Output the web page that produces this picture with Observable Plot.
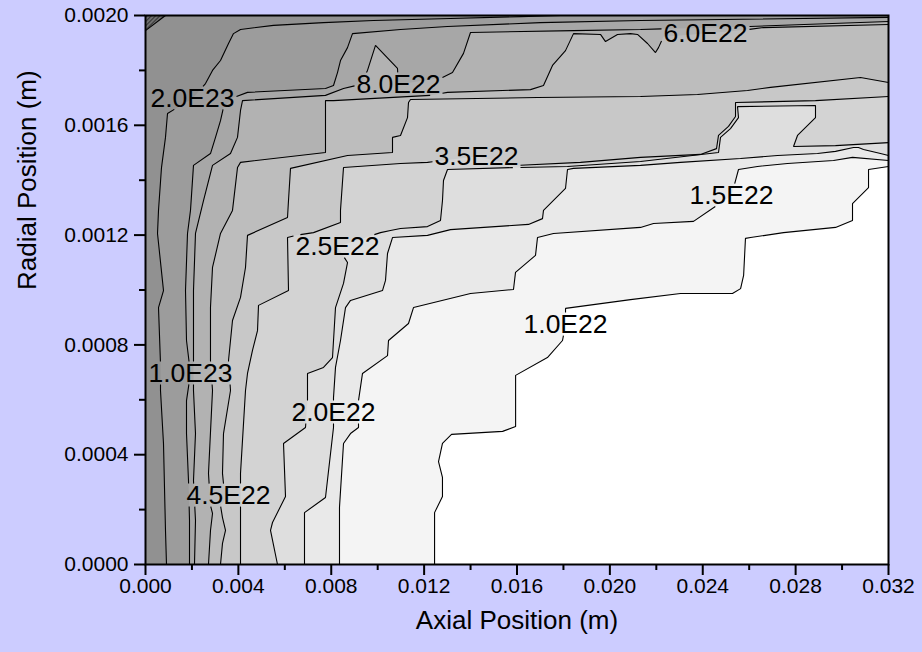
<!DOCTYPE html>
<html>
<head>
<meta charset="utf-8">
<script src="https://cdn.jsdelivr.net/npm/d3@7"></script>
<script src="https://cdn.jsdelivr.net/npm/@observablehq/plot@0.6"></script>
<style>
  html, body { margin: 0; padding: 0; background: #ccccff; }
  #chart { width: 922px; height: 652px; }
</style>
</head>
<body>
<div id="chart"></div>
<script>
// Contour lines of the density field, each as [axial position (m), radial position (m)]
// vertices, running from the axis (r = 0) up to the outer wall or the right boundary.
const c1_0E22 = [[0.01245,0],[0.01245,0.000189],[0.01279,0.000248],[0.01279,0.000317],[0.01262,0.000375],[0.01279,0.000441],[0.01318,0.000474],[0.01538,0.000485],[0.01594,0.000503],[0.01594,0.000689],[0.01731,0.000754],[0.01796,0.000816],[0.01809,0.000874],[0.01809,0.000933],[0.02089,0.000965],[0.02304,0.000987],[0.02528,0.000987],[0.02563,0.001005],[0.02576,0.001053],[0.02584,0.001188],[0.02606,0.001191],[0.02748,0.001209],[0.02972,0.001228],[0.03045,0.001253],[0.03045,0.001315],[0.03114,0.001373],[0.03114,0.001439],[0.032,0.00145]];
const c1_5E22 = [[0.008355,0],[0.008355,0.000208],[0.008528,0.000441],[0.008829,0.000477],[0.009174,0.000499],[0.009174,0.000597],[0.009346,0.000696],[0.010423,0.000761],[0.010466,0.000816],[0.011327,0.000878],[0.011542,0.000936],[0.013997,0.000987],[0.015849,0.001002],[0.015936,0.001064],[0.016797,0.001126],[0.016883,0.001191],[0.017572,0.001206],[0.021319,0.001228],[0.021879,0.001242],[0.023602,0.00125],[0.025238,0.001344],[0.02554,0.001439],[0.026358,0.00145],[0.02765,0.001461],[0.029632,0.001472],[0.03045,0.001483],[0.032,0.001472]];
const c2_0E22 = [[0.006848,0],[0.006848,0.000189],[0.007752,0.000244],[0.008097,0.000499],[0.008097,0.000554],[0.008097,0.000608],[0.008183,0.000718],[0.008398,0.000816],[0.008614,0.000936],[0.008829,0.000962],[0.010207,0.000998],[0.010337,0.001035],[0.010423,0.001133],[0.010638,0.001191],[0.012145,0.001199],[0.013136,0.00122],[0.016495,0.001239],[0.017098,0.00126],[0.017141,0.00129],[0.018089,0.00137],[0.018175,0.001439],[0.018434,0.001443],[0.021319,0.001454],[0.023042,0.001465],[0.025626,0.001479],[0.02722,0.00149],[0.028943,0.001497],[0.029718,0.001505],[0.030493,0.001519],[0.030708,0.001519],[0.030924,0.001512],[0.031656,0.001497],[0.032,0.00149]];
const c2_5E22 = [[0.005685,0],[0.005384,0.000124],[0.00547,0.000153],[0.00603,0.000248],[0.005944,0.000441],[0.006891,0.000499],[0.006977,0.000597],[0.006977,0.000696],[0.007666,0.000718],[0.008054,0.000754],[0.008183,0.000936],[0.008528,0.001024],[0.0087,0.0011],[0.008269,0.001158],[0.010121,0.001209],[0.010552,0.001217],[0.010983,0.001224],[0.012145,0.001231],[0.012705,0.001253],[0.012791,0.001326],[0.012834,0.001399],[0.013007,0.001439],[0.015849,0.001446],[0.018175,0.00145],[0.021319,0.001468],[0.024679,0.001501],[0.024765,0.001556],[0.025195,0.001588],[0.02554,0.001628],[0.025497,0.001668],[0.028856,0.001672],[0.028856,0.001628],[0.028081,0.001563],[0.027909,0.001523],[0.029718,0.001526],[0.032,0.001537]];
const c3_5E22 = [[0.004092,0],[0.004092,0.000332],[0.004307,0.000634],[0.004393,0.000696],[0.004608,0.00078],[0.004824,0.000852],[0.004867,0.000944],[0.006159,0.000998],[0.006116,0.001191],[0.00646,0.001199],[0.007236,0.001209],[0.008398,0.001246],[0.008398,0.00129],[0.008528,0.001446],[0.010983,0.001461],[0.012145,0.001465],[0.014256,0.001486],[0.016065,0.001454],[0.018735,0.001465],[0.021319,0.001483],[0.023903,0.001494],[0.024593,0.001515],[0.024679,0.001563],[0.025109,0.001596],[0.025411,0.001632],[0.025411,0.001683],[0.028856,0.00169],[0.032,0.001705]];
const c4_5E22 = [[0.00323,0],[0.003316,0.000077],[0.003446,0.000124],[0.003316,0.000171],[0.00323,0.000215],[0.003575,0.000251],[0.003359,0.000295],[0.003316,0.000332],[0.003359,0.000477],[0.003661,0.000634],[0.003575,0.000743],[0.003747,0.000889],[0.004092,0.000973],[0.004307,0.001082],[0.004393,0.001199],[0.006116,0.001264],[0.006159,0.001326],[0.006245,0.001443],[0.0087,0.00149],[0.010638,0.001501],[0.010638,0.001556],[0.010983,0.001563],[0.011284,0.001628],[0.011327,0.001683],[0.011413,0.001694],[0.016883,0.001701],[0.021319,0.001705],[0.023774,0.001712],[0.025928,0.001727],[0.026918,0.001738],[0.030794,0.001774],[0.032,0.001756]];
const c6_0E22 = [[0.002713,0],[0.002799,0.000124],[0.002886,0.000186],[0.002799,0.000215],[0.002713,0.000332],[0.002886,0.000634],[0.002799,0.000743],[0.002799,0.000936],[0.002886,0.001082],[0.00323,0.001206],[0.003747,0.00129],[0.003962,0.001446],[0.004092,0.001465],[0.007752,0.001501],[0.007752,0.00169],[0.008097,0.00169],[0.012275,0.001709],[0.013007,0.00172],[0.016582,0.00173],[0.017141,0.001745],[0.017529,0.001818],[0.018089,0.001872],[0.018434,0.001934],[0.019596,0.001931],[0.019812,0.001905],[0.020329,0.001931],[0.020888,0.001934],[0.02119,0.001931],[0.021621,0.001898],[0.021965,0.001865],[0.022094,0.001883],[0.02231,0.001923],[0.024119,0.001934],[0.025971,0.001949],[0.026617,0.001956],[0.032,0.001967]];
const c8_0E22 = [[0.00211,0],[0.002153,0.00016],[0.002067,0.000306],[0.002153,0.000477],[0.002067,0.000634],[0.002067,0.000998],[0.002153,0.001206],[0.002498,0.001326],[0.002886,0.001454],[0.003661,0.001497],[0.003962,0.001556],[0.004092,0.001654],[0.004178,0.00169],[0.007752,0.001709],[0.008528,0.001734],[0.00926,0.001749],[0.009561,0.0018],[0.009906,0.001891],[0.010853,0.001807],[0.010896,0.001749],[0.012791,0.001774],[0.013222,0.001792],[0.013696,0.001862],[0.013997,0.001938],[0.018434,0.001945],[0.021319,0.001949],[0.025971,0.00196],[0.032,0.001978]];
const c1_0E23 = [[0.001895,0],[0.001895,0.00016],[0.001852,0.000306],[0.001766,0.000477],[0.001766,0.000597],[0.001938,0.000696],[0.001766,0.000816],[0.001723,0.000998],[0.001809,0.001206],[0.001938,0.00129],[0.002067,0.001454],[0.002799,0.001497],[0.003015,0.001556],[0.00323,0.001617],[0.003359,0.001665],[0.00379,0.001701],[0.004393,0.00172],[0.007752,0.001734],[0.008097,0.001745],[0.008269,0.001792],[0.008398,0.001836],[0.0087,0.001883],[0.008915,0.001934],[0.010983,0.001949],[0.013007,0.00196],[0.017012,0.001974],[0.021319,0.001982],[0.032,0.001993]];
const c2_0E23 = [[0.000904,0],[0.000861,0.000124],[0.000775,0.000441],[0.000646,0.000634],[0.000646,0.000732],[0.00056,0.000936],[0.000775,0.000998],[0.000517,0.001206],[0.00056,0.00129],[0.000689,0.001446],[0.000861,0.001556],[0.000948,0.001643],[0.002024,0.001698],[0.002584,0.001752],[0.002886,0.0018],[0.00323,0.001836],[0.003575,0.001898],[0.00379,0.001934],[0.004092,0.001949],[0.005513,0.001964],[0.007666,0.001974],[0.00982,0.001982],[0.013136,0.001989],[0.016151,0.001996],[0.017874,0.002]];
// Highest level, a small pocket in the corner at the inlet wall
const cPeak = [[0,0.001945],[0.000861,0.002]];

const levelNames = ["1.0E22","1.5E22","2.0E22","2.5E22","3.5E22","4.5E22","6.0E22","8.0E22","1.0E23","2.0E23"];
const levelPaths = [c1_0E22, c1_5E22, c2_0E22, c2_5E22, c3_5E22, c4_5E22, c6_0E22, c8_0E22, c1_0E23, c2_0E23];
// vertex of each line that carries its level label
const labelVertex = [12, 20, 4, 13, 16, 5, 32, 19, 5, 12];
// fill of the band above each level
const levelGray = ["#f4f4f4","#e9e9e9","#dedede","#d3d3d3","#c8c8c8","#bdbdbd","#b2b2b2","#a7a7a7","#9c9c9c","#919191"];

const xMajor = [0, 0.004, 0.008, 0.012, 0.016, 0.020, 0.024, 0.028, 0.032];
const xMinor = [0.002, 0.006, 0.010, 0.014, 0.018, 0.022, 0.026, 0.030];
const yMajor = [0, 0.0004, 0.0008, 0.0012, 0.0016, 0.0020];
const yMinor = [0.0002, 0.0006, 0.0010, 0.0014, 0.0018];

// ---- layout ----
const W = 922, H = 652, mL = 145, mR = 34, mT = 15, mB = 88;
const X0 = 0, X1 = 0.032, Y0 = 0, Y1 = 0.002;
const FONT = '"Liberation Sans", Arial, Helvetica, sans-serif';
const LABEL_SIZE = 26.5;
const xS = d3.scaleLinear([X0, X1], [mL, W - mR]);
const yS = d3.scaleLinear([Y0, Y1], [H - mB, mT]);

// close a line into the region of higher values (toward the inlet wall / outer wall)
function closeRegion(path) {
  const pts = path.slice();
  const first = pts[0], last = pts[pts.length - 1];
  if (last[0] >= X1) pts.push([X1, Y1]);
  pts.push([X0, Y1]);
  if (first[1] <= Y0) pts.push([X0, Y0]);
  return pts;
}

// label boxes (pixels); contour strokes are broken where they pass under a label
const ctx = document.createElement("canvas").getContext("2d");
ctx.font = `${LABEL_SIZE}px ${FONT}`;
const labels = levelPaths.map((p, i) => ({x: p[labelVertex[i]][0], y: p[labelVertex[i]][1], text: levelNames[i]}));
const boxes = labels.map(l => {
  const w = ctx.measureText(l.text).width;
  const cx = xS(l.x), cy = yS(l.y);
  return {x0: cx - w / 2 - 2, x1: cx + w / 2 + 2, y0: cy - 12, y1: cy + 11};
});

function segInBox(p, q, b) {
  let t0 = 0, t1 = 1;
  const dx = q[0] - p[0], dy = q[1] - p[1];
  const tests = [[-dx, p[0] - b.x0], [dx, b.x1 - p[0]], [-dy, p[1] - b.y0], [dy, b.y1 - p[1]]];
  for (const [pp, qq] of tests) {
    if (pp === 0) { if (qq < 0) return null; }
    else {
      const r = qq / pp;
      if (pp < 0) { if (r > t1) return null; if (r > t0) t0 = r; }
      else { if (r < t0) return null; if (r < t1) t1 = r; }
    }
  }
  return t0 < t1 ? [t0, t1] : null;
}
const lerp = (p, q, t) => [p[0] + (q[0] - p[0]) * t, p[1] + (q[1] - p[1]) * t];

function visiblePieces(pathPx) {
  const pieces = [];
  let cur = null;
  for (let i = 0; i < pathPx.length - 1; i++) {
    const p = pathPx[i], q = pathPx[i + 1];
    const hidden = boxes.map(b => segInBox(p, q, b)).filter(Boolean).sort((a, b) => a[0] - b[0]);
    const vis = [];
    let t = 0;
    for (const [a, b] of hidden) { if (a > t) vis.push([t, a]); t = Math.max(t, b); }
    if (t < 1) vis.push([t, 1]);
    if (!vis.length) { cur = null; continue; }
    for (const [a, b] of vis) {
      const e = lerp(p, q, b);
      if (cur && a === 0) cur.push(e);
      else { cur = [lerp(p, q, a), e]; pieces.push(cur); }
      if (b < 1) cur = null;
    }
  }
  return pieces;
}

const strokeRows = [];
levelPaths.forEach((path, i) => {
  const px = path.map(([x, y]) => [xS(x), yS(y)]);
  visiblePieces(px).forEach((piece, k) => {
    piece.forEach(([sx, sy]) => strokeRows.push({x: xS.invert(sx), y: yS.invert(sy), z: `${i}-${k}`}));
  });
});
const peakStroke = cPeak.map(([x, y]) => ({x, y}));

const fills = levelPaths.map((p, i) =>
  Plot.line(closeRegion(p), {x: d => d[0], y: d => d[1], fill: levelGray[i], stroke: "none"}));

const plot = Plot.plot({
  width: W, height: H,
  marginLeft: mL, marginRight: mR, marginTop: mT, marginBottom: mB,
  style: {fontFamily: FONT, background: "#ccccff", overflow: "visible"},
  x: {domain: [X0, X1]},
  y: {domain: [Y0, Y1]},
  marks: [
    Plot.frame({fill: "white", stroke: "none"}),
    ...fills,
    Plot.line(closeRegion(cPeak), {x: d => d[0], y: d => d[1], fill: "url(#hatch)", stroke: "none"}),
    Plot.line(strokeRows, {x: "x", y: "y", z: "z", stroke: "black", strokeWidth: 1.1, strokeLinejoin: "miter", strokeLinecap: "butt"}),
    Plot.line(peakStroke, {x: "x", y: "y", stroke: "black", strokeWidth: 1.1}),
    Plot.text(labels, {x: "x", y: "y", text: "text", fontSize: LABEL_SIZE, fill: "black"}),
    Plot.axisX(xMinor, {tickSize: 6, tickFormat: () => "", strokeWidth: 2, label: null}),
    Plot.axisX(xMajor, {tickSize: 11, tickPadding: 3, tickFormat: d => d.toFixed(3), fontSize: 21, strokeWidth: 2, label: null}),
    Plot.axisY(yMinor, {tickSize: 6, tickFormat: () => "", strokeWidth: 2, label: null}),
    Plot.axisY(yMajor, {tickSize: 11, tickPadding: 6, tickFormat: d => d.toFixed(4), fontSize: 21, strokeWidth: 2, label: null}),
    Plot.text(["Axial Position (m)"], {frameAnchor: "bottom", dy: 64, text: d => d, fontSize: 26, fill: "black"}),
    Plot.text(["Radial Position (m)"], {frameAnchor: "left", dx: -118, rotate: -90, text: d => d, fontSize: 26, fill: "black"}),
    Plot.frame({stroke: "black", strokeWidth: 2})
  ]
});

// diagonal hatching for the peak pocket
d3.select(plot).insert("defs", ":first-child").html(
  '<pattern id="hatch" width="3" height="3" patternUnits="userSpaceOnUse" patternTransform="rotate(45)">' +
  '<rect width="3" height="3" fill="#6e6e6e"></rect><line x1="0" y1="0" x2="0" y2="3" stroke="#1a1a1a" stroke-width="1.4"></line></pattern>');

document.getElementById("chart").appendChild(plot);
</script>
</body>
</html>
